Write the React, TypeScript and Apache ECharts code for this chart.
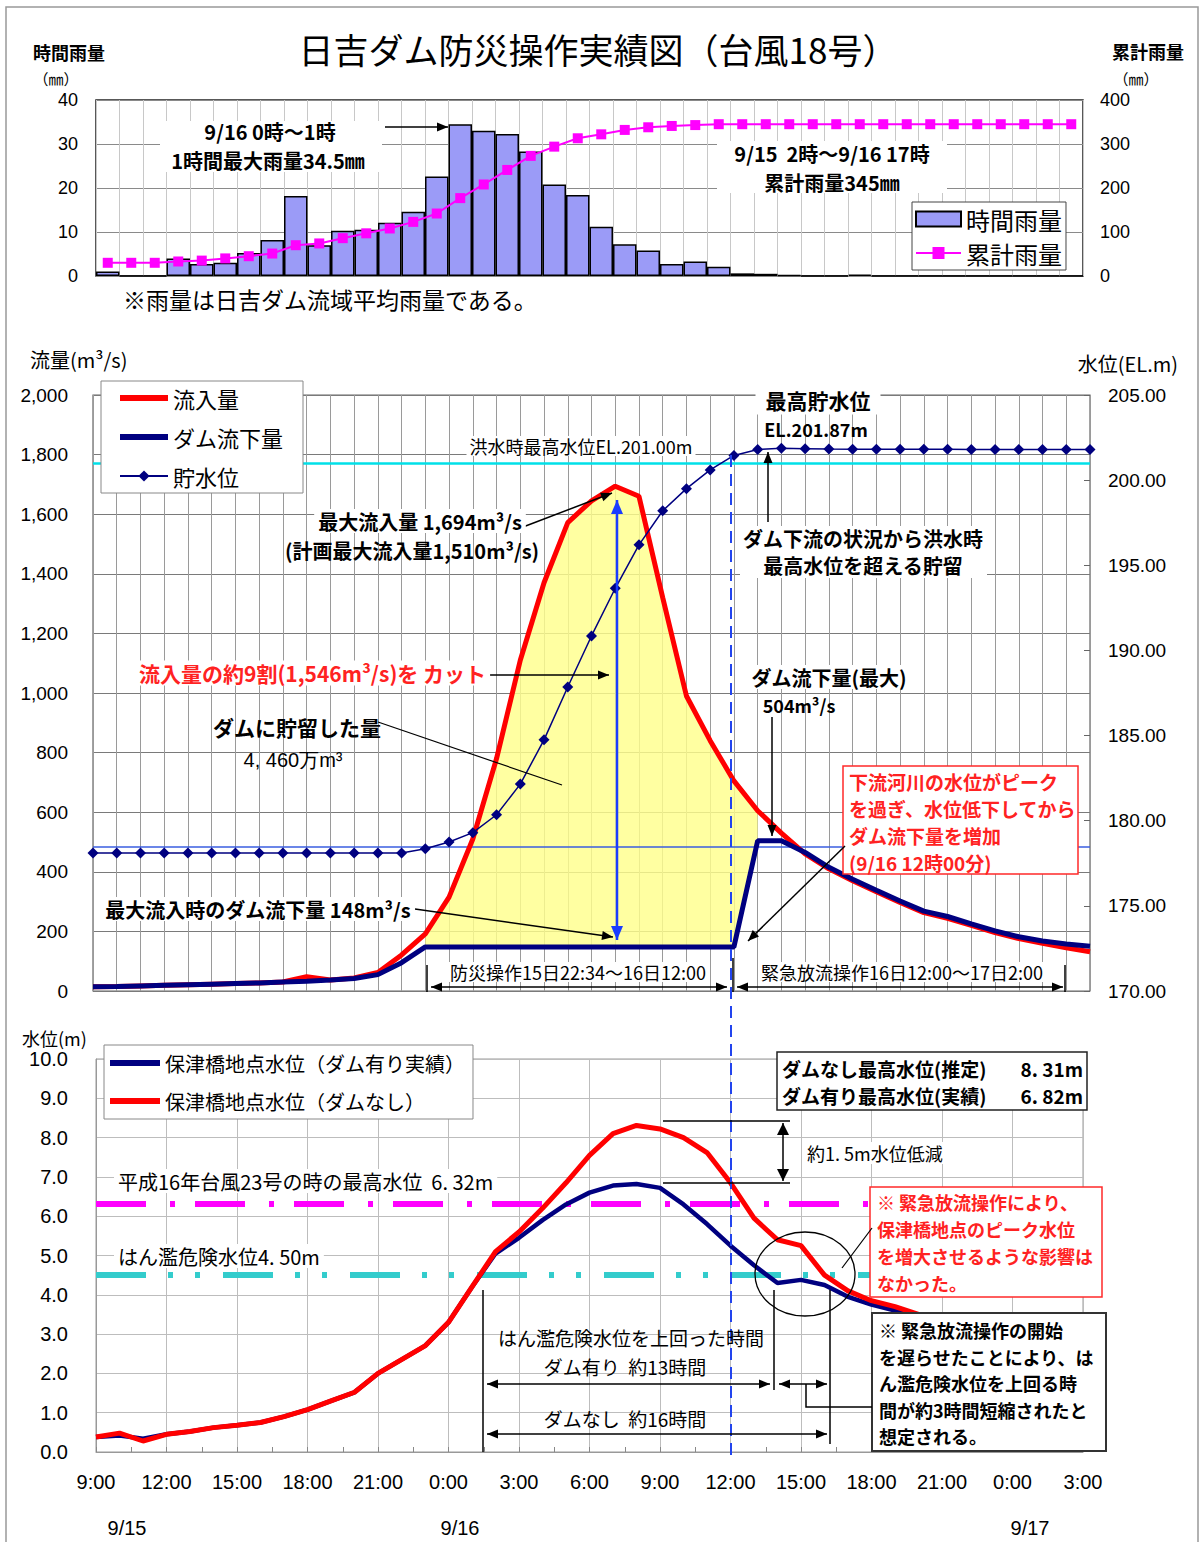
import React, { useEffect, useRef } from 'react';
import * as echarts from 'echarts';

// ---------- DATA ----------
// Top chart: hourly slots from 9/15 9:00 (slot 0) to 9/17 3:00 (slot 41)
const rainHourly = [1.0, 0, 0, 4.0, 2.7, 3.0, 5.2, 8.2, 18.2, 7.0, 10.3, 10.5, 12.1, 14.6, 22.6, 34.5, 33.0, 32.3, 28.3, 20.8, 18.4, 11.2, 7.2, 5.8, 2.7, 3.3, 2.1, 0.6, 0.5, 0.2, 0, 0, 0.3, 0, 0, 0, 0, 0, 0, 0, 0, 0];
const rainCumulative = [30, 30, 30, 33, 35, 40, 45, 51, 70, 74, 86, 97, 108, 123, 142, 177, 208, 241, 273, 294, 313, 322, 332, 338, 341, 343, 345, 345, 345, 345, 345, 345, 345, 345, 345, 345, 345, 345, 345, 345, 345, 345];

// Middle chart: hourly values, hour 0 = 9/15 9:00 ... hour 42 = 9/17 3:00
const inflow = [14, 15, 17, 19, 21, 23, 25, 27, 30, 48, 37, 44, 62, 121, 192, 315, 510, 780, 1110, 1370, 1572, 1645, 1694, 1660, 1320, 990, 840, 705, 605, 530, 460, 410, 370, 333, 297, 263, 244, 220, 196, 176, 160, 145, 132];
const outflow = [14, 15, 17, 19, 21, 23, 25, 27, 30, 33, 37, 42, 55, 95, 148, 148, 148, 148, 148, 148, 148, 148, 148, 148, 148, 148, 148, 148, 504, 504, 465, 415, 375, 338, 302, 268, 250, 225, 202, 182, 168, 158, 150];
const reservoirLevel = [178.1, 178.1, 178.1, 178.1, 178.1, 178.1, 178.1, 178.1, 178.1, 178.1, 178.1, 178.1, 178.1, 178.1, 178.35, 178.75, 179.3, 180.35, 182.15, 184.75, 187.85, 190.85, 193.65, 196.2, 198.2, 199.5, 200.6, 201.45, 201.8, 201.87, 201.85, 201.83, 201.82, 201.82, 201.82, 201.81, 201.81, 201.8, 201.8, 201.8, 201.8, 201.8, 201.8];
const levelRefLines = [201.0, 178.5];
const cutStartHour = 14;
const cutEndHour = 28;

// Bottom chart: Hozu bridge water level, hourly from 9/15 9:00
const hozuWithDam = [0.38, 0.42, 0.34, 0.45, 0.52, 0.62, 0.68, 0.75, 0.9, 1.08, 1.3, 1.52, 2.0, 2.35, 2.7, 3.3, 4.2, 5.05, 5.45, 5.9, 6.3, 6.6, 6.78, 6.82, 6.72, 6.3, 5.8, 5.25, 4.75, 4.3, 4.38, 4.25, 3.95, 3.75, 3.6, 3.45];
const hozuWithoutDam = [0.38, 0.48, 0.28, 0.45, 0.52, 0.62, 0.68, 0.75, 0.9, 1.08, 1.3, 1.52, 2.0, 2.35, 2.7, 3.3, 4.2, 5.1, 5.6, 6.2, 6.85, 7.55, 8.1, 8.31, 8.22, 8.0, 7.62, 6.85, 5.95, 5.4, 5.25, 4.5, 4.1, 3.85, 3.7, 3.5];
const riverRefLines = [6.32, 4.5];

const timeLabels = ['9:00', '12:00', '15:00', '18:00', '21:00', '0:00', '3:00', '6:00', '9:00', '12:00', '15:00', '18:00', '21:00', '0:00', '3:00'];
const dateLabels = ['9/15', '9/16', '9/17'];

// ---------- HELPERS ----------
const JP = '"Noto Sans CJK JP", sans-serif';
const NUM = '"Liberation Sans", Arial, sans-serif';
const THICK_ICON = 'path://M0,0H100V12H0Z';

type TOpt = { bold?: boolean; color?: string; align?: string; bg?: string; pad?: number[]; family?: string; z?: number };
function T(text: string, x: number, y: number, size: number, o: TOpt = {}) {
  const style: any = {
    text,
    fill: o.color ?? '#000',
    font: `${o.bold ? 'bold ' : ''}${size}px ${o.family ?? JP}`,
    align: o.align ?? 'center',
    verticalAlign: 'middle',
  };
  if (o.bg) {
    style.backgroundColor = o.bg;
    style.padding = o.pad ?? [2, 4];
  }
  return { type: 'text', z: o.z ?? 110, x, y, style };
}
function R(x: number, y: number, w: number, h: number, fill: string, stroke?: string, lw = 1.5, z = 105) {
  return { type: 'rect', z, shape: { x, y, width: w, height: h }, style: { fill, stroke: stroke ?? 'none', lineWidth: stroke ? lw : 0 } };
}
function L(x1: number, y1: number, x2: number, y2: number, color = '#000', w = 1.5, dash?: number[], z = 108) {
  const style: any = { stroke: color, lineWidth: w };
  if (dash) style.lineDash = dash;
  return { type: 'line', z, shape: { x1, y1, x2, y2 }, style };
}
function A(x1: number, y1: number, x2: number, y2: number, o: { color?: string; w?: number; start?: boolean; end?: boolean; hl?: number; hw?: number } = {}) {
  const color = o.color ?? '#000';
  const hl = o.hl ?? 11;
  const hw = o.hw ?? 4.5;
  const els: any[] = [L(x1, y1, x2, y2, color, o.w ?? 1.5)];
  const head = (px: number, py: number, qx: number, qy: number) => {
    const dx = qx - px, dy = qy - py;
    const len = Math.hypot(dx, dy);
    const ux = dx / len, uy = dy / len;
    const bx = qx - ux * hl, by = qy - uy * hl;
    return { type: 'polygon', z: 109, shape: { points: [[qx, qy], [bx - uy * hw, by + ux * hw], [bx + uy * hw, by - ux * hw]] }, style: { fill: color } };
  };
  if (o.end !== false) els.push(head(x1, y1, x2, y2));
  if (o.start) els.push(head(x2, y2, x1, y1));
  return els;
}

function buildGraphics() {
  const g: any[] = [];
  // frame
  g.push({ type: 'rect', z: 1, shape: { x: 6, y: 7, width: 1192, height: 1540 }, style: { fill: 'none', stroke: '#999', lineWidth: 1.5 } });
  // ---- top ----
  g.push(T('日吉ダム防災操作実績図（台風18号）', 598, 48, 35));
  g.push(T('時間雨量', 69, 52, 18, { bold: true }));
  g.push(T('（㎜）', 56, 78, 15));
  g.push(T('累計雨量', 1148, 51, 18, { bold: true }));
  g.push(T('（㎜）', 1136, 78, 15));
  g.push(R(160, 121, 222, 51, '#fff'));
  g.push(T('9/16 0時～1時', 270, 131, 20, { bold: true }));
  g.push(T('1時間最大雨量34.5㎜', 268, 160, 20, { bold: true }));
  g.push(...A(385, 127, 448, 127));
  g.push(R(717, 141, 230, 52, '#fff'));
  g.push(T('9/15  2時～9/16 17時', 832, 153, 20, { bold: true }));
  g.push(T('累計雨量345㎜', 832, 182, 20, { bold: true }));
  g.push(T('※雨量は日吉ダム流域平均雨量である。', 123, 299, 23, { align: 'left' }));

  // ---- middle ----
  g.push(T('流量(m³/s)', 30, 359, 20, { align: 'left' }));
  g.push(T('水位(EL.m)', 1178, 363, 20, { align: 'right' }));
  g.push(T('洪水時最高水位EL.201.00m', 581, 446, 18, { bg: '#fff', pad: [1, 3] }));
  g.push(T('最高貯水位', 818, 400, 21, { bold: true, bg: '#fff', pad: [4, 10] }));
  g.push(T('EL.201.87m', 816, 429, 18, { bold: true }));
  g.push(T('最大流入量 1,694m³/s', 420, 521, 20, { bold: true, bg: '#fff' }));
  g.push(T('(計画最大流入量1,510m³/s)', 412, 550, 20, { bold: true }));
  g.push(...A(523, 527, 612, 493));
  g.push(...A(617, 500, 617, 940, { color: '#1a3cff', w: 2.5, start: true, hl: 14, hw: 6 }));
  g.push(T('流入量の約9割(1,546m³/s)を カット', 135, 673, 21, { bold: true, color: '#ff2222', align: 'left', bg: '#fff' }));
  g.push(...A(488, 675, 609, 675));
  g.push(T('ダムに貯留した量', 297, 727, 21, { bold: true }));
  g.push(T('4, 460万m³', 293, 760, 20, { family: NUM }));
  g.push(L(378, 722, 562, 785, '#000', 1.2));
  g.push(T('最大流入時のダム流下量 148m³/s', 258, 909, 20, { bold: true, bg: '#fff' }));
  g.push(...A(415, 909, 613, 937));
  g.push(L(731, 455, 731, 1455, '#2244ee', 2, [12, 7], 107));
  g.push(...A(768, 522, 768, 452));
  g.push(R(740, 526, 247, 52, '#fff'));
  g.push(T('ダム下流の状況から洪水時', 863, 538, 20, { bold: true }));
  g.push(T('最高水位を超える貯留', 863, 565, 20, { bold: true }));
  g.push(T('ダム流下量(最大)', 829, 677, 20, { bold: true, bg: '#fff' }));
  g.push(T('504m³/s', 799, 705, 18, { bold: true }));
  g.push(...A(772, 717, 772, 836));
  g.push(R(843, 766, 235, 108, '#fff', '#ff2a2a', 1.5));
  const redLines1 = ['下流河川の水位がピーク', 'を過ぎ、水位低下してから', 'ダム流下量を増加', '(9/16 12時00分)'];
  redLines1.forEach((s, i) => g.push(T(s, 849, 781 + i * 27, 19, { bold: true, color: '#ff2222', align: 'left' })));
  g.push(...A(845, 846, 748, 941));
  g.push(T('防災操作15日22:34～16日12:00', 578, 972, 18, { bg: '#fff', pad: [1, 2] }));
  g.push(T('緊急放流操作16日12:00～17日2:00', 902, 972, 18, { bg: '#fff', pad: [1, 2] }));
  g.push(...A(431, 987, 727, 987, { start: true }));
  g.push(...A(737, 987, 1063, 987, { start: true }));
  g.push(L(427, 965, 427, 992));
  g.push(L(733, 958, 733, 992));
  g.push(L(1065, 965, 1065, 992));

  // ---- bottom ----
  g.push(T('水位(m)', 22, 1038, 18, { align: 'left' }));
  g.push(R(777, 1052, 310, 58, '#fff', '#222', 1.5));
  g.push(T('ダムなし最高水位(推定)', 782, 1068, 19, { bold: true, align: 'left' }));
  g.push(T('8. 31m', 1083, 1068, 19, { bold: true, align: 'right' }));
  g.push(T('ダム有り最高水位(実績)', 782, 1095, 19, { bold: true, align: 'left' }));
  g.push(T('6. 82m', 1083, 1095, 19, { bold: true, align: 'right' }));
  g.push(L(663, 1121, 790, 1121, '#000', 1.5));
  g.push(L(663, 1183, 790, 1183, '#000', 1.5));
  g.push(...A(783, 1123, 783, 1181, { start: true, hl: 12, hw: 6 }));
  g.push(T('約1. 5m水位低減', 803, 1153, 18, { align: 'left', bg: '#fff' }));
  g.push(T('平成16年台風23号の時の最高水位  6. 32m', 114, 1181, 20, { align: 'left', bg: '#fff' }));
  g.push(T('はん濫危険水位4. 50m', 114, 1256, 20, { align: 'left', bg: '#fff' }));
  g.push(R(870, 1187, 232, 110, '#fff', '#ff2a2a', 1.5));
  const redLines2 = ['※ 緊急放流操作により、', '保津橋地点のピーク水位', 'を増大させるような影響は', 'なかった。'];
  redLines2.forEach((s, i) => g.push(T(s, 877, 1202 + i * 27, 18, { bold: true, color: '#ff2222', align: 'left' })));
  g.push({ type: 'ellipse', z: 108, shape: { cx: 805, cy: 1274, rx: 50, ry: 42 }, style: { fill: 'none', stroke: '#000', lineWidth: 1.3 } });
  g.push(L(842, 1268, 872, 1228, '#000', 1.2));
  g.push(R(872, 1313, 234, 138, '#fff', '#333', 2));
  const blackLines = ['※ 緊急放流操作の開始', 'を遅らせたことにより、は', 'ん濫危険水位を上回る時', '間が約3時間短縮されたと', '想定される。'];
  blackLines.forEach((s, i) => g.push(T(s, 879, 1330 + i * 26.5, 18, { bold: true, align: 'left' })));
  g.push(T('はん濫危険水位を上回った時間', 631, 1337, 19));
  g.push(T('ダム有り  約13時間', 625, 1366, 19));
  g.push(T('ダムなし  約16時間', 625, 1418, 19));
  g.push(L(483, 1290, 483, 1452, '#000', 1.5));
  g.push(L(774, 1290, 774, 1390, '#000', 1.5));
  g.push(L(830, 1290, 830, 1444, '#000', 1.5));
  g.push(...A(487, 1384, 770, 1384, { start: true }));
  g.push(...A(487, 1434, 827, 1434, { start: true }));
  g.push(...A(779, 1384, 827, 1384, { start: true }));
  g.push({ type: 'polyline', z: 108, shape: { points: [[806, 1384], [806, 1407], [872, 1407]] }, style: { stroke: '#000', lineWidth: 1.5, fill: 'none' } });
  g.push(T(dateLabels[0], 127, 1528, 20, { family: NUM }));
  g.push(T(dateLabels[1], 460, 1528, 20, { family: NUM }));
  g.push(T(dateLabels[2], 1030, 1528, 20, { family: NUM }));
  return g;
}

export default function App() {
  const ref = useRef<HTMLDivElement>(null);
  useEffect(() => {
    if (!ref.current) return;
    const chart = echarts.init(ref.current, undefined, { renderer: 'svg' });
    const cutHours: number[] = [];
    for (let h = cutStartHour; h <= cutEndHour; h++) cutHours.push(h);

    const axisLabelBase = { color: '#000', fontFamily: NUM };
    const option: any = {
      animation: false,
      backgroundColor: '#fff',
      textStyle: { fontFamily: JP },
      grid: [
        { left: 96, top: 100, width: 987, height: 176, show: true, borderColor: '#222', borderWidth: 1.5, backgroundColor: 'transparent' },
        { left: 93, top: 395, width: 997, height: 596, show: true, borderColor: '#666', borderWidth: 1.2, backgroundColor: 'transparent' },
        { left: 96, top: 1059, width: 987, height: 393, show: true, borderColor: '#999', borderWidth: 1, backgroundColor: 'transparent' },
      ],
      legend: [
        {
          data: [{ name: '時間雨量', icon: 'rect' }, { name: '累計雨量' }],
          left: 912, top: 202, orient: 'vertical', selectedMode: false,
          itemWidth: 45, itemHeight: 15, itemGap: 6, padding: [3, 4, 3, 3],
          backgroundColor: '#fff', borderColor: '#444', borderWidth: 1,
          textStyle: { fontSize: 24, fontFamily: JP, color: '#000', lineHeight: 28 }, z: 20,
        },
        {
          data: [{ name: '流入量', icon: THICK_ICON }, { name: 'ダム流下量', icon: THICK_ICON }, { name: '貯水位' }],
          left: 101, top: 381, orient: 'vertical', selectedMode: false,
          itemWidth: 48, itemHeight: 14, itemGap: 13, padding: [4, 20, 4, 18],
          backgroundColor: '#fff', borderColor: '#888', borderWidth: 1,
          textStyle: { fontSize: 22, fontFamily: JP, color: '#000', lineHeight: 26 }, z: 20,
        },
        {
          data: [{ name: '保津橋地点水位（ダム有り実績）', icon: THICK_ICON }, { name: '保津橋地点水位（ダムなし）', icon: THICK_ICON }],
          left: 104, top: 1045, orient: 'vertical', selectedMode: false,
          itemWidth: 50, itemHeight: 14, itemGap: 12, padding: [5, 8, 5, 6],
          backgroundColor: '#fff', borderColor: '#888', borderWidth: 1,
          textStyle: { fontSize: 20, fontFamily: JP, color: '#000', lineHeight: 26 }, z: 20,
        },
      ],
      xAxis: [
        { gridIndex: 0, type: 'value', min: 0, max: 42, interval: 1, axisLabel: { show: false }, axisTick: { show: false }, axisLine: { show: false }, splitLine: { show: true, lineStyle: { color: '#c8c8c8', width: 1 } } },
        { gridIndex: 1, type: 'value', min: 0, max: 42, interval: 1, axisLabel: { show: false }, axisTick: { show: false }, axisLine: { show: false }, splitLine: { show: true, lineStyle: { color: '#9a9a9a', width: 1 } } },
        {
          gridIndex: 2, type: 'value', min: 0, max: 42, interval: 3,
          axisLabel: { ...axisLabelBase, fontSize: 20, margin: 20, formatter: (v: number) => timeLabels[Math.round(v / 3)] ?? '' },
          axisTick: { show: true, inside: true, length: 5, lineStyle: { color: '#888' } },
          minorTick: { show: true, splitNumber: 2, length: 5, lineStyle: { color: '#888' } },
          axisLine: { show: true, lineStyle: { color: '#999' } },
          splitLine: { show: true, lineStyle: { color: '#bdbdbd' } },
        },
      ],
      yAxis: [
        { gridIndex: 0, type: 'value', min: 0, max: 40, interval: 10, position: 'left', axisLabel: { ...axisLabelBase, fontSize: 18, margin: 18 }, axisLine: { show: false }, axisTick: { show: false }, splitLine: { show: true, lineStyle: { color: '#8a8a8a' } } },
        { gridIndex: 0, type: 'value', min: 0, max: 400, interval: 100, position: 'right', axisLabel: { ...axisLabelBase, fontSize: 18, margin: 17 }, axisLine: { show: false }, axisTick: { show: false }, splitLine: { show: false } },
        { gridIndex: 1, type: 'value', min: 0, max: 2000, interval: 200, position: 'left', axisLabel: { ...axisLabelBase, fontSize: 19, margin: 25, formatter: (v: number) => v.toLocaleString('en-US') }, axisLine: { show: false }, axisTick: { show: false }, splitLine: { show: true, lineStyle: { color: '#7a7a7a' } } },
        { gridIndex: 1, type: 'value', min: 170, max: 205, interval: 5, position: 'right', axisLabel: { ...axisLabelBase, fontSize: 19, margin: 18, formatter: (v: number) => v.toFixed(2) }, axisLine: { show: false }, axisTick: { show: true, inside: true, length: 6, lineStyle: { color: '#666' } }, splitLine: { show: false } },
        { gridIndex: 2, type: 'value', min: 0, max: 10, interval: 1, position: 'left', axisLabel: { ...axisLabelBase, fontSize: 20, margin: 28, formatter: (v: number) => v.toFixed(1) }, axisLine: { show: true, lineStyle: { color: '#999' } }, axisTick: { show: false }, splitLine: { show: true, lineStyle: { color: '#bdbdbd' } } },
      ],
      series: [
        {
          name: '時間雨量', type: 'bar', xAxisIndex: 0, yAxisIndex: 0, barWidth: 23.5,
          data: rainHourly.map((v, i) => [i + 0.5, v]),
          itemStyle: { color: '#9b9bf7', borderColor: '#000', borderWidth: 1.5 }, z: 2,
        },
        {
          name: '累計雨量', type: 'line', xAxisIndex: 0, yAxisIndex: 1,
          data: rainCumulative.map((v, i) => [i + 0.5, v]),
          symbol: 'rect', symbolSize: 10, lineStyle: { color: '#ff00ff', width: 2 }, itemStyle: { color: '#ff00ff' }, z: 3,
        },
        {
          name: 'カット量', type: 'custom', xAxisIndex: 1, yAxisIndex: 2, silent: true, z: 1,
          data: cutHours.map((h) => [h, inflow[h], outflow[h]]),
          encode: { x: 0, y: [1, 2] },
          renderItem: (params: any, api: any) => {
            if (params.dataIndex !== 0) return { type: 'group', children: [] };
            const top = cutHours.map((h) => api.coord([h, inflow[h]]));
            const bottom = cutHours.slice().reverse().map((h) => api.coord([h, outflow[h]]));
            return { type: 'polygon', shape: { points: top.concat(bottom) }, style: { fill: 'rgba(255,255,140,0.82)' } };
          },
        },
        {
          name: '流入量', type: 'line', xAxisIndex: 1, yAxisIndex: 2,
          data: inflow.map((v, i) => [i, v]), symbol: 'none', lineStyle: { color: '#ff0000', width: 5 }, itemStyle: { color: '#ff0000' }, z: 4,
        },
        {
          name: 'ダム流下量', type: 'line', xAxisIndex: 1, yAxisIndex: 2,
          data: outflow.map((v, i) => [i, v]), symbol: 'none', lineStyle: { color: '#000080', width: 5 }, itemStyle: { color: '#000080' }, z: 5,
        },
        {
          name: '貯水位', type: 'line', xAxisIndex: 1, yAxisIndex: 3,
          data: reservoirLevel.map((v, i) => [i, v]), symbol: 'diamond', symbolSize: 11,
          lineStyle: { color: '#000080', width: 1.5 }, itemStyle: { color: '#000080' }, z: 6,
          markLine: {
            silent: true, symbol: ['none', 'none'], label: { show: false }, z: 3,
            data: [
              { yAxis: levelRefLines[0], lineStyle: { color: '#00e0e8', width: 2.5, type: 'solid' } },
              { yAxis: levelRefLines[1], lineStyle: { color: '#3a5ee0', width: 1.5, type: 'solid' } },
            ],
          },
        },
        {
          name: '保津橋地点水位（ダム有り実績）', type: 'line', xAxisIndex: 2, yAxisIndex: 4,
          data: hozuWithDam.map((v, i) => [i, v]), symbol: 'none', lineStyle: { color: '#000080', width: 4.5 }, itemStyle: { color: '#000080' }, z: 8,
          markLine: {
            silent: true, symbol: ['none', 'none'], label: { show: false }, z: 3,
            data: [
              { yAxis: riverRefLines[0], lineStyle: { color: '#ff00ff', width: 6, type: [50, 24, 5, 20] } },
              { yAxis: riverRefLines[1], lineStyle: { color: '#33cccc', width: 6, type: [50, 22, 5, 22, 5, 23] } },
            ],
          },
        },
        {
          name: '保津橋地点水位（ダムなし）', type: 'line', xAxisIndex: 2, yAxisIndex: 4,
          data: hozuWithoutDam.map((v, i) => [i, v]), symbol: 'none', lineStyle: { color: '#ff0000', width: 5 }, itemStyle: { color: '#ff0000' }, z: 9,
        },
      ],
      graphic: { elements: buildGraphics() },
    };
    chart.setOption(option);
    return () => chart.dispose();
  }, []);
  return <div ref={ref} style={{ position: 'absolute', left: 0, top: 0, width: 1201, height: 1542 }} />;
}
